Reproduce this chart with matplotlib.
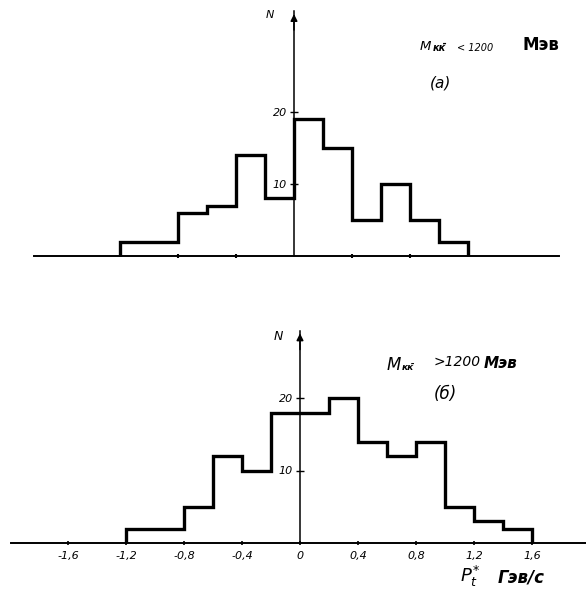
import numpy as np
import matplotlib
matplotlib.use("Agg")
import matplotlib.pyplot as plt

# ---- data ----
edges_a = [-1.2, -1.0, -0.8, -0.6, -0.4, -0.2, 0.0, 0.2, 0.4, 0.6, 0.8, 1.0, 1.2]
counts_a = [2, 2, 6, 7, 14, 8, 19, 15, 5, 10, 5, 2]

edges_b = [-1.2, -1.0, -0.8, -0.6, -0.4, -0.2, 0.0, 0.2, 0.4, 0.6, 0.8, 1.0, 1.2, 1.4, 1.6]
counts_b = [2, 2, 5, 12, 10, 18, 18, 20, 14, 12, 14, 5, 3, 2]

yticks = [10, 20]
xticks_a = [-0.8, -0.4, 0.4, 0.8]
xticks_b = [-1.6, -1.2, -0.8, -0.4, 0.0, 0.4, 0.8, 1.2, 1.6]
xticklabels_b = ["-1,6", "-1,2", "-0,8", "-0,4", "0", "0,4", "0,8", "1,2", "1,6"]

W, H = 586, 592
fig = plt.figure(figsize=(W / 100, H / 100), dpi=100)

def px(x, y):
    return x / W, 1 - y / H

def style_axes(ax, xlim, ylim, xbounds, ytop):
    ax.set_xlim(*xlim)
    ax.set_ylim(*ylim)
    ax.patch.set_alpha(0)
    for s in ("top", "right"):
        ax.spines[s].set_visible(False)
    ax.spines["left"].set_position(("data", 0))
    ax.spines["bottom"].set_position(("data", 0))
    ax.spines["left"].set_bounds(0, ytop)
    ax.spines["bottom"].set_bounds(*xbounds)
    ax.spines["left"].set_linewidth(1.1)
    ax.spines["bottom"].set_linewidth(1.4)
    ax.annotate("", xy=(0, ytop), xytext=(0, ytop - 3),
                arrowprops=dict(arrowstyle="-|>", color="k", lw=1.1,
                                mutation_scale=10))
    ax.set_yticks(yticks)
    ax.set_yticklabels([str(v) for v in yticks], fontsize=8, style="italic")
    ax.tick_params(axis="y", direction="inout", length=6, width=1, pad=2)

# ---- top panel (a) ----
axa = fig.add_axes([0, 1 - 280 / H, 1, 280 / H])
style_axes(axa, (-294 / 145, (586 - 294) / 145), (-(280 - 256) / 7.2, 256 / 7.2),
           (-1.79, 1.83), 34)
axa.stairs(counts_a, edges_a, color="k", lw=2.4)
axa.set_xticks(xticks_a)
axa.set_xticklabels([])
axa.tick_params(axis="x", direction="inout", length=3, width=1.5)

# ---- bottom panel (б) ----
axb = fig.add_axes([0, 0, 1, 292 / H])
style_axes(axb, (-300 / 145, 286 / 145), (-(592 - 543) / 7.25, 243 / 7.25),
           (-1.99, 2.0), 29.3)
axb.stairs(counts_b, edges_b, color="k", lw=2.4)
axb.set_xticks(xticks_b)
axb.set_xticklabels(xticklabels_b, fontsize=8, style="italic")
axb.tick_params(axis="x", direction="inout", length=3, width=1.2, pad=4)

# ---- texts ----
fig.text(*px(270, 15), "N", fontsize=8, style="italic", ha="center", va="center")
fig.text(*px(278, 336), "N", fontsize=9, style="italic", ha="center", va="center")

# top annotation
fig.text(*px(420, 47), "M", fontsize=9.5, style="italic", va="center")
fig.text(*px(433, 48), "кк̄", fontsize=7, weight="bold", style="italic", va="center")
fig.text(*px(457, 48), "< 1200", fontsize=7, style="italic", va="center")
fig.text(*px(522, 45), "Мэв", fontsize=12, weight="bold", va="center")
fig.text(*px(441, 83), "(а)", fontsize=11, style="italic", ha="center", va="center")

# bottom annotation
fig.text(*px(387, 365), "M", fontsize=12, style="italic", va="center")
fig.text(*px(402, 368), "кк̄", fontsize=6.5, weight="bold", style="italic", va="center")
fig.text(*px(434, 362), ">1200", fontsize=10, style="italic", va="center")
fig.text(*px(484, 363), "Мэв", fontsize=11, weight="bold", style="italic", va="center")
fig.text(*px(445, 394), "(б)", fontsize=12, style="italic", ha="center", va="center")

# x label
fig.text(*px(460, 576), r"$P_t^{*}$", fontsize=13, va="center")
fig.text(*px(498, 577), "Гэв/с", fontsize=12, weight="bold", style="italic", va="center")

fig.savefig("out.png", dpi=100)
